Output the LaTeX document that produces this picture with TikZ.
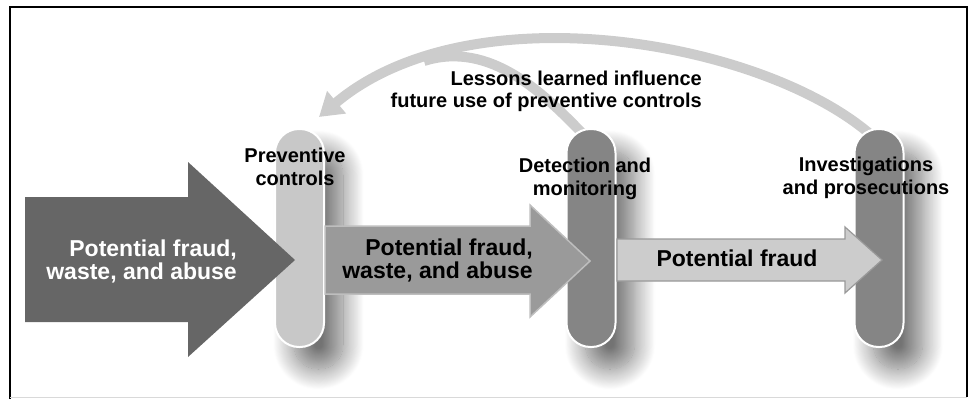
\documentclass[tikz,border=0pt]{standalone}
\usepackage{fontspec}
\setmainfont{Liberation Sans}
\usetikzlibrary{arrows.meta,shadows.blur}

\definecolor{pilllight}{HTML}{C8C8C8}
\definecolor{pilldark}{HTML}{858585}
\definecolor{arrowdark}{HTML}{666666}
\definecolor{arrowmid}{HTML}{9A9A9A}
\definecolor{arrowmidedge}{HTML}{BEBEBE}
\definecolor{arrowlight}{HTML}{CCCCCC}
\definecolor{arrowlightedge}{HTML}{999999}
\definecolor{feedbackgray}{HTML}{CCCCCC}

\pgfdeclarelayer{back}
\pgfsetlayers{back,main}

\begin{document}
\begin{tikzpicture}[x=1pt,y=-1pt,
	pill/.style={draw=white, line width=2pt, rounded corners=24pt,
		minimum width=49pt, minimum height=218pt, inner sep=0pt,
		blur shadow={shadow xshift=19pt, shadow yshift=-22pt,
			shadow blur radius=21pt, shadow blur steps=24, shadow opacity=55}},
	pilltext/.style={font=\fontsize{20}{23}\selectfont\bfseries, align=center, inner sep=0pt},
	flowtext/.style={font=\fontsize{23}{23}\selectfont\bfseries, align=right, inner sep=0pt},
	feedback/.style={draw=feedbackgray, line width=10pt}]
	
	%Background
	\useasboundingbox (0,0) rectangle (972,399);
	
	%Frame
	\draw[line width=2.5pt, black] (10,399) -- (10,7) -- (967,7) -- (967,397);
	\draw[line width=1pt, black!15] (10,397.5) -- (967,397.5);
	
	%Pills
	\node[pill, fill=pilllight] (prev) at (299.5,238) {};
	\node[pill, fill=pilldark] (detect) at (591,238) {};
	\node[pill, fill=pilldark] (invest) at (879,238) {};
	
	%Feedback loop
	\coordinate (tipend) at (319,117);
	\coordinate (merge) at (424,61);
	\begin{pgfonlayer}{back}
		\draw[feedback, -{Triangle[width=28pt,length=23pt]}] ([xshift=-9pt,yshift=-6pt]invest.north) .. controls (760,40) and (470,-10) .. (tipend);
		\draw[feedback] ([xshift=-8pt,yshift=-6pt]detect.north) .. controls (545,95) and (491,40) .. (merge);
	\end{pgfonlayer}
	
	%Flow arrows
	%A
	\fill[arrowdark] (25,197) -- (188,197) -- (188,162) -- (295,260) -- (188,357) -- (188,322) -- (25,322) -- cycle;
	\node[flowtext, text=white, anchor=east] (waste1) at (237,261) {Potential fraud,\\waste, and abuse};
	
	%B
	\filldraw[fill=arrowmid, draw=arrowmidedge, line width=1.5pt] (325,226) -- (530,226) -- (530,205) -- (590,261) -- (530,317) -- (530,294) -- (325,294) -- cycle;
	\node[flowtext, anchor=east] (waste2) at (533,260) {Potential fraud,\\waste, and abuse};
	
	%C
	\filldraw[fill=arrowlight, draw=arrowlightedge, line width=1.2pt] (617,239) -- (845,239) -- (845,227) -- (882,260) -- (845,293) -- (845,281) -- (617,281) -- cycle;
	\node[flowtext] (fraud) at (737,258) {Potential fraud};
	
	%Labels
	\node[pilltext] (prevlbl) at (295,167) {Preventive\\controls};
	\node[pilltext] (detectlbl) at (585,179) {Detection and\\monitoring};
	\node[pilltext] (investlbl) at (866,178) {Investigations\\and prosecutions};
	\node[pilltext, font=\fontsize{20}{22}\selectfont\bfseries, align=right, anchor=east] (lessons) at (702,91) {Lessons learned influence\\future use of preventive controls};
	
\end{tikzpicture}
\end{document}
